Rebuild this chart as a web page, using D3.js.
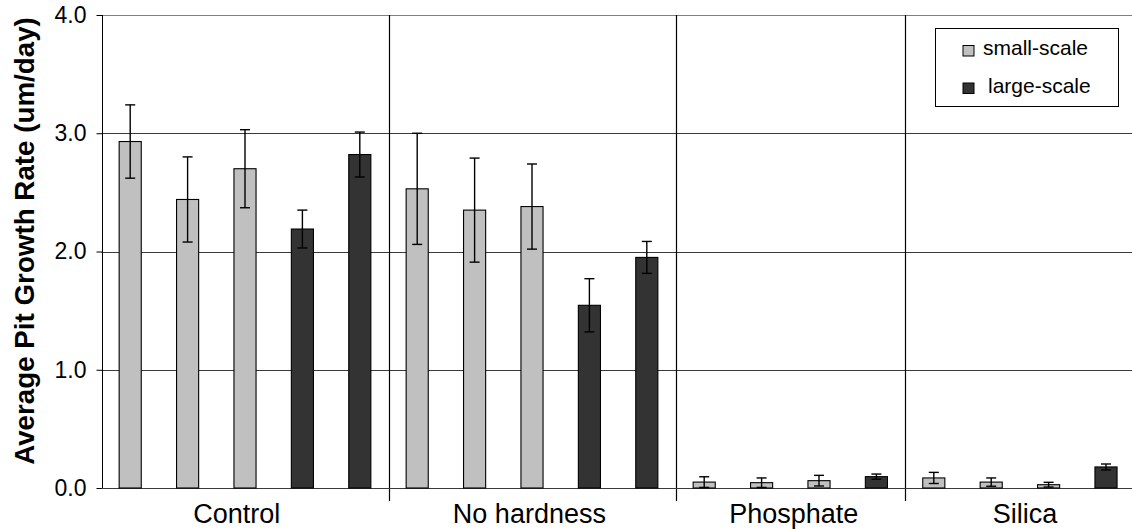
<!DOCTYPE html>
<html>
<head>
<meta charset="utf-8">
<script src="https://cdn.jsdelivr.net/npm/d3@7"></script>
<style>
  html, body { margin: 0; padding: 0; background: #fff; }
  svg { display: block; font-family: "Liberation Sans", Arial, sans-serif; }
</style>
</head>
<body>
<svg id="chart" width="1132" height="529"></svg>
<script>
// ---- data ----
const groupLabels = ["Control", "No hardness", "Phosphate", "Silica"];
const barGroup = [0,0,0,0,0, 1,1,1,1,1, 2,2,2,2, 3,3,3,3];
const barSeries = ["small","small","small","large","large",
                   "small","small","small","large","large",
                   "small","small","small","large",
                   "small","small","small","large"];
const values = [2.93, 2.44, 2.70, 2.19, 2.82,
                2.53, 2.35, 2.38, 1.545, 1.95,
                0.05, 0.045, 0.062, 0.096,
                0.085, 0.05, 0.028, 0.178];
const errors = [0.31, 0.36, 0.33, 0.16, 0.19,
                0.47, 0.44, 0.36, 0.225, 0.135,
                0.045, 0.04, 0.045, 0.022,
                0.047, 0.035, 0.02, 0.025];
const seriesNames = ["small-scale", "large-scale"];
const seriesKeys = ["small", "large"];
const yTicks = [0, 1, 2, 3, 4];
const yTitle = "Average Pit Growth Rate (um/day)";

// ---- layout ----
const svg = d3.select("#chart");
const mLeft = 101.5, mRight = 1134.7, mTop = 15, mBottom = 488;
const labelNudge = [-8.3, -2.6, 3.4, 5.2];
const color = d3.scaleOrdinal().domain(seriesKeys).range(["#c0c0c0", "#333333"]);

const idx = d3.range(values.length);
const x = d3.scaleBand().domain(idx).range([mLeft, mRight]).paddingInner(0.615).paddingOuter(0.3075);
const y = d3.scaleLinear().domain([0, 4]).range([mBottom, mTop]);

// gridlines
svg.append("g").selectAll("line").data(yTicks.filter(d => d > 0)).join("line")
  .attr("x1", mLeft).attr("x2", 1132)
  .attr("y1", d => Math.round(y(d)) + 0.5).attr("y2", d => Math.round(y(d)) + 0.5)
  .attr("stroke", d => d === 4 ? "#808080" : "#3a3a3a").attr("stroke-width", 1);

// group separators
const step = x.step();
const sepIdx = [];
for (let i = 1; i < barGroup.length; i++) if (barGroup[i] !== barGroup[i-1]) sepIdx.push(i);
svg.append("g").selectAll("line").data(sepIdx).join("line")
  .attr("x1", d => Math.round(mLeft + d * step) + 0.5).attr("x2", d => Math.round(mLeft + d * step) + 0.5)
  .attr("y1", mTop).attr("y2", 501)
  .attr("stroke", "#000").attr("stroke-width", 1.2);

// y axis
const yAxis = d3.axisLeft(y).tickValues(yTicks).tickFormat(d3.format(".1f")).tickSize(6).tickPadding(10);
const gy = svg.append("g").attr("transform", `translate(${Math.round(mLeft)+0.5},0)`).call(yAxis);
gy.select(".domain").attr("stroke", "#000").attr("d", `M0,${mTop}V${mBottom}`);
gy.selectAll(".tick line").attr("stroke", "#000");
gy.selectAll(".tick text").attr("font-size", 23).attr("fill", "#000")
  .attr("font-family", "'Liberation Sans', Arial, sans-serif");

// baseline
svg.append("line").attr("x1", mLeft).attr("x2", 1132)
  .attr("y1", Math.round(y(0)) + 0.5).attr("y2", Math.round(y(0)) + 0.5)
  .attr("stroke", "#3a3a3a").attr("stroke-width", 1.2);

// bars
svg.append("g").selectAll("rect").data(idx).join("rect")
  .attr("x", i => x(i)).attr("width", x.bandwidth())
  .attr("y", i => y(values[i])).attr("height", i => y(0) - y(values[i]))
  .attr("fill", i => color(barSeries[i])).attr("stroke", "#000").attr("stroke-width", 1.1);

// error bars
const eg = svg.append("g").attr("stroke", "#000").attr("stroke-width", 1.4);
idx.forEach(i => {
  const cx = x(i) + x.bandwidth() / 2;
  const hi = y(values[i] + errors[i]), lo = y(values[i] - errors[i]);
  eg.append("line").attr("x1", cx).attr("x2", cx).attr("y1", hi).attr("y2", lo);
  eg.append("line").attr("x1", cx - 5).attr("x2", cx + 5).attr("y1", hi).attr("y2", hi);
  eg.append("line").attr("x1", cx - 5).attr("x2", cx + 5).attr("y1", lo).attr("y2", lo);
});

// group labels
svg.append("g").selectAll("text").data(groupLabels).join("text")
  .attr("x", (g, gi) => {
    const members = idx.filter(i => barGroup[i] === gi);
    return (x(members[0]) + x(members[members.length-1]) + x.bandwidth()) / 2 + labelNudge[gi];
  })
  .attr("y", 522.5).attr("text-anchor", "middle").attr("font-size", 27).attr("fill", "#000")
  .text(d => d);

// y title (fit to reference span)
const tt = svg.append("text").attr("transform", "translate(34,241) rotate(-90)")
  .attr("text-anchor", "middle").attr("font-size", 27).attr("font-weight", "bold").attr("fill", "#000")
  .text(yTitle);
const len = tt.node().getComputedTextLength();
tt.attr("font-size", 27 * 448 / len);

// legend
const lg = svg.append("g");
lg.append("rect").attr("x", 935.5).attr("y", 28.5).attr("width", 183).attr("height", 78)
  .attr("fill", "#fff").attr("stroke", "#000").attr("stroke-width", 1);
seriesKeys.forEach((k, i) => {
  const yy = 45.5 + i * 37.5;
  lg.append("rect").attr("x", 963).attr("y", yy).attr("width", 11).attr("height", 10.5)
    .attr("fill", color(k)).attr("stroke", "#000").attr("stroke-width", 1);
  lg.append("text").attr("x", i === 0 ? 983 : 988).attr("y", 55 + i * 37.5)
    .attr("font-size", 21).attr("fill", "#000").text(seriesNames[i]);
});
</script>
</body>
</html>
